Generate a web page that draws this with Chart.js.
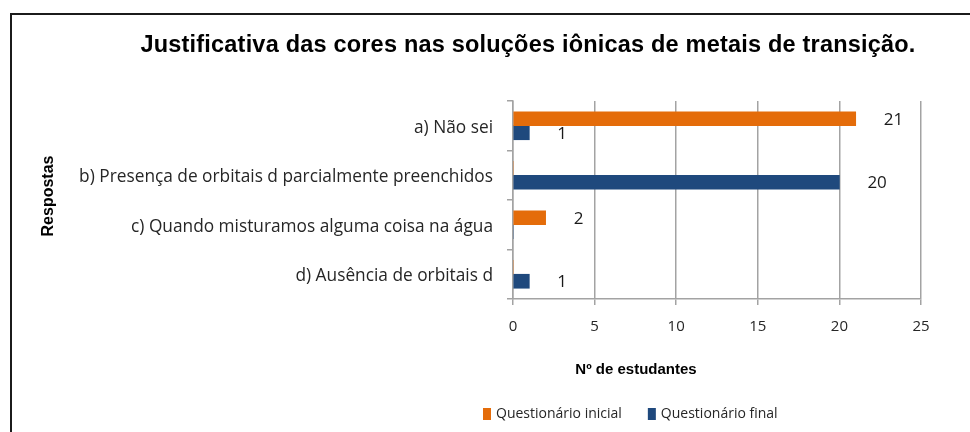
<!DOCTYPE html>
<html>
<head>
<meta charset="utf-8">
<script src="https://cdn.jsdelivr.net/npm/chart.js@4.4.1/dist/chart.umd.min.js"></script>
<style>
body{margin:0;background:#fff;}
.wrap{position:relative;width:970px;height:432px;overflow:hidden;}
.frame{position:absolute;left:10px;top:13px;right:-4px;bottom:-4px;border-top:2px solid #1b1b1b;border-left:2px solid #1b1b1b;}
canvas{position:absolute;left:0;top:0;}
</style>
</head>
<body>
<div class="wrap">
    <div class="frame"></div>
    <canvas id="grafico" width="970" height="432"></canvas>
</div>
<script>
/* =========================
   DADOS
========================= */

const respostas = [
    "a) Não sei",
    "b) Presença de orbitais d parcialmente preenchidos",
    "c) Quando misturamos alguma coisa na água",
    "d) Ausência de orbitais d"
];
const questionarioInicial = [21, 0, 2, 0];
const questionarioFinal   = [1, 20, 0, 1];
const ticksX = [0, 5, 10, 15, 20, 25];

const titulo = "Justificativa das cores nas soluções iônicas de metais de transição.";
const tituloX = "Nº de estudantes";
const tituloY = "Respostas";
const nomesSeries = ["Questionário inicial", "Questionário final"];

const LARANJA = "#E46C0A";
const AZUL = "#1F497D";
const GRADE = "#a3a3a3";
const TEXTO = "#262626";

/* =========================
   TEXTOS (titulo, eixos, legenda, rotulos)
========================= */

const textosPlugin = {
    id: "textos",
    afterDatasetsDraw(chart){
        const ctx = chart.ctx;
        ctx.save();

        // rotulos das barras (so valores > 0)
        ctx.font = "17px 'Open Sans'";
        ctx.fillStyle = "#1a1a1a";
        ctx.textAlign = "left";
        ctx.textBaseline = "middle";
        chart.data.datasets.forEach((ds, i)=>{
            chart.getDatasetMeta(i).data.forEach((bar, j)=>{
                if(ds.data[j] > 0){
                    ctx.fillText(ds.data[j], bar.x + 28, bar.y + 1);
                }
            });
        });

        // titulo
        ctx.font = "bold 23.5px 'Liberation Sans'";
        ctx.letterSpacing = "0.2px";
        ctx.fillStyle = "#000";
        ctx.textAlign = "center";
        ctx.textBaseline = "alphabetic";
        ctx.fillText(titulo, 528, 52);
        ctx.letterSpacing = "0px";

        // titulo eixo x
        ctx.textBaseline = "middle";
        ctx.font = "bold 15px 'Liberation Sans'";
        ctx.fillText(tituloX, 636, 370);

        // titulo eixo y
        ctx.font = "bold 16px 'Liberation Sans'";
        ctx.translate(49, 196);
        ctx.rotate(-Math.PI / 2);
        ctx.fillText(tituloY, 0, 0);
        ctx.setTransform(1, 0, 0, 1, 0, 0);

        // legenda
        ctx.font = "14px 'Open Sans'";
        ctx.textAlign = "left";
        let x = 483;
        [LARANJA, AZUL].forEach((cor, i)=>{
            ctx.fillStyle = cor;
            ctx.fillRect(x, 408, 8, 12);
            ctx.fillStyle = TEXTO;
            ctx.fillText(nomesSeries[i], x + 13, 414);
            x += 13 + ctx.measureText(nomesSeries[i]).width + 26;
        });

        ctx.restore();
    }
};

/* =========================
   GRAFICO
========================= */

new Chart(document.getElementById("grafico"),{
    type:"bar",
    data:{
        labels:respostas,
        datasets:[
            { label:nomesSeries[0], data:questionarioInicial, backgroundColor:LARANJA },
            { label:nomesSeries[1], data:questionarioFinal, backgroundColor:AZUL }
        ]
    },
    options:{
        indexAxis:"y",
        responsive:false,
        animation:false,
        barThickness:14,
        layout:{ padding:{ top:101, right:49, bottom:0, left:0 } },
        plugins:{
            legend:{ display:false },
            title:{ display:false },
            tooltip:{ enabled:false }
        },
        scales:{
            x:{
                min:0,
                max:25,
                afterBuildTicks(scale){
                    scale.ticks = ticksX.map(v=>({ value:v }));
                },
                afterFit(scale){ scale.height = 432 - 299; },
                grid:{ color:GRADE, lineWidth:1.5, tickLength:6 },
                border:{ color:GRADE, width:1.5 },
                ticks:{
                    color:TEXTO,
                    padding:13,
                    font:{ family:"'Open Sans'", size:15 }
                }
            },
            y:{
                afterFit(scale){ scale.width = 513; },
                grid:{ drawOnChartArea:false, color:GRADE, lineWidth:1.5, tickLength:6 },
                border:{ color:GRADE, width:1.5 },
                ticks:{
                    color:TEXTO,
                    padding:14,
                    labelOffset:2,
                    font:{ family:"'Open Sans'", size:17.3 }
                }
            }
        }
    },
    plugins:[textosPlugin]
});
</script>
</body>
</html>
